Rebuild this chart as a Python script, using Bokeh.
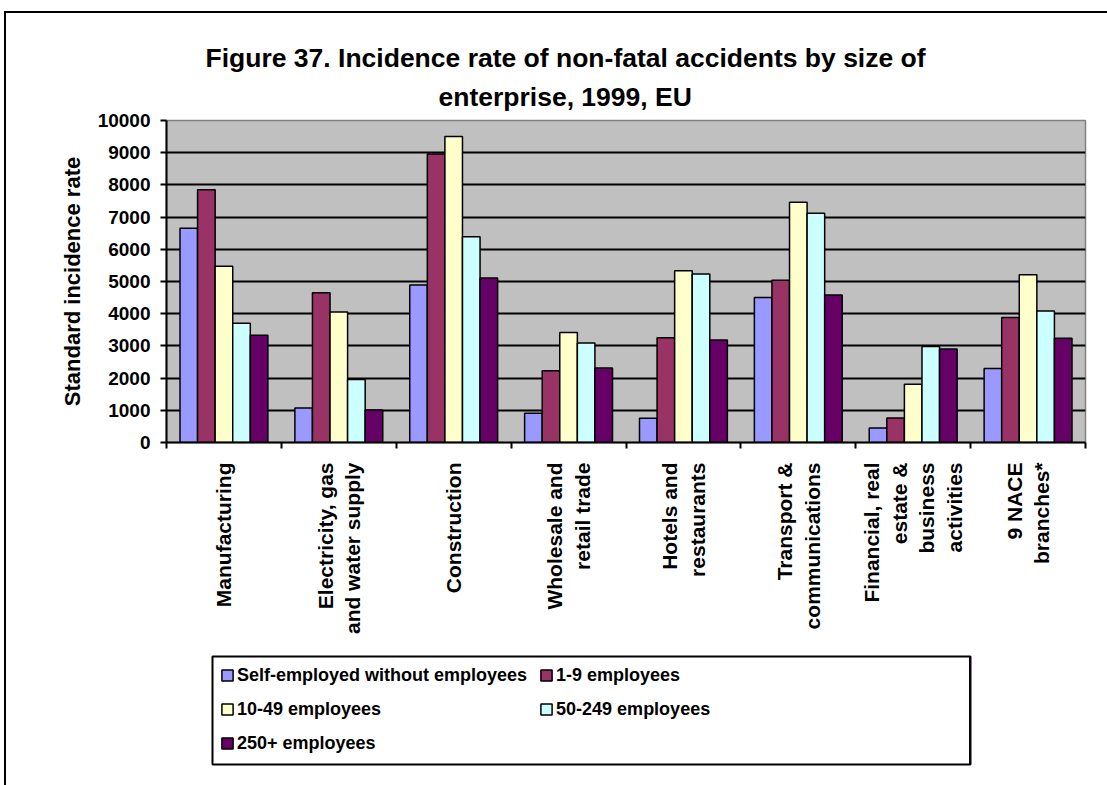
import math
from bokeh.plotting import figure
from bokeh.models import (Range1d, FixedTicker, Title, Legend, LegendItem,
                          ColumnDataSource, Spacer)
from bokeh.layouts import column, row
from bokeh.transform import dodge
from bokeh.embed import file_html
from bokeh.resources import INLINE

# ---------------- data ----------------
categories = [
    "Manufacturing",
    "Electricity, gas\nand water supply",
    "Construction",
    "Wholesale and\nretail trade",
    "Hotels and\nrestaurants",
    "Transport &\ncommunications",
    "Financial, real\nestate &\nbusiness\nactivities",
    "9 NACE\nbranches*",
]
series_names = [
    "Self-employed without employees",
    "1-9 employees",
    "10-49 employees",
    "50-249 employees",
    "250+ employees",
]
self_employed = [6650, 1070, 4890, 910, 750, 4500, 450, 2300]
emp_1_9 = [7850, 4650, 8960, 2230, 3250, 5040, 760, 3880]
emp_10_49 = [5470, 4050, 9500, 3420, 5330, 7460, 1810, 5210]
emp_50_249 = [3700, 1960, 6390, 3090, 5230, 7120, 2980, 4080]
emp_250_plus = [3330, 1010, 5110, 2310, 3180, 4580, 2900, 3240]
colors = ["#9999FF", "#993366", "#FFFFCC", "#CCFFFF", "#660066"]
y_ticks = list(range(0, 10001, 1000))
title_line1 = "Figure 37. Incidence rate of non-fatal accidents by size of"
title_line2 = "enterprise,  1999, EU"
y_label = "Standard incidence rate"

FONT = "Liberation Sans"

n = len(categories)
centers = [i + 0.5 for i in range(n)]
bounds = [float(i) for i in range(n + 1)]
series = [self_employed, emp_1_9, emp_10_49, emp_50_249, emp_250_plus]
keys = ["s0", "s1", "s2", "s3", "s4"]
data = {"x": centers}
for k, s in zip(keys, series):
    data[k] = s
src = ColumnDataSource(data)

# ---------------- main chart ----------------
p = figure(width=1101, height=627, x_range=Range1d(0, n), y_range=Range1d(0, 10000),
           output_backend="svg", toolbar_location=None, title=None,
           min_border_left=160, min_border_right=22, min_border_top=107,
           min_border_bottom=198, background_fill_color="#C0C0C0",
           border_fill_color="white", outline_line_color="#808080",
           outline_line_width=1.5)

bw = 0.153
offsets = [-2 * bw, -bw, 0.0, bw, 2 * bw]
for k, c, off in zip(keys, colors, offsets):
    p.vbar(x=dodge("x", off, range=p.x_range), top=k, width=bw, source=src,
           fill_color=c, line_color="black", line_width=1.5)

# title (two lines)
t2 = Title(text=title_line2, align="left", offset=272, text_font=FONT,
           text_font_style="bold", text_font_size="26.5px", standoff=18,
           text_color="black")
t1 = Title(text=title_line1, align="left", offset=39, text_font=FONT,
           text_font_style="bold", text_font_size="26.5px", standoff=-4,
           text_color="black")
p.add_layout(t2, "above")
p.add_layout(t1, "above")

# x axis
xa = p.xaxis[0]
xa.ticker = FixedTicker(ticks=centers, minor_ticks=bounds)
xa.major_label_overrides = {c: lab for c, lab in zip(centers, categories)}
xa.major_label_orientation = math.pi / 2
xa.major_tick_out = 0
xa.major_tick_in = 0
xa.minor_tick_out = 6
xa.minor_tick_in = 0
xa.minor_tick_line_color = "black"
xa.minor_tick_line_width = 2
xa.axis_line_color = "black"
xa.axis_line_width = 2
xa.major_label_standoff = 14
xa.major_label_text_font = FONT
xa.major_label_text_font_style = "bold"
xa.major_label_text_font_size = "21px"
xa.major_label_text_color = "black"

# y axis
ya = p.yaxis[0]
ya.ticker = FixedTicker(ticks=y_ticks)
ya.axis_label = y_label
ya.axis_label_text_font = FONT
ya.axis_label_text_font_style = "bold"
ya.axis_label_text_font_size = "22px"
ya.axis_label_text_color = "black"
ya.axis_label_standoff = 10
ya.major_label_text_font = FONT
ya.major_label_text_font_style = "bold"
ya.major_label_text_font_size = "19px"
ya.major_label_text_color = "black"
ya.major_label_standoff = 10
ya.major_tick_out = 6
ya.major_tick_in = 0
ya.major_tick_line_width = 2
ya.minor_tick_line_color = None
ya.axis_line_color = "black"
ya.axis_line_width = 2

p.xgrid.visible = False
p.ygrid.ticker = FixedTicker(ticks=y_ticks[1:-1])
p.ygrid.grid_line_color = "black"
p.ygrid.grid_line_width = 2

# ---------------- legend box ----------------
leg = figure(width=762, height=145, x_range=Range1d(-20, -19), y_range=Range1d(0, 1),
             output_backend="svg", toolbar_location=None,
             x_axis_location=None, y_axis_location=None,
             min_border_left=2, min_border_right=2, min_border_top=16,
             min_border_bottom=21, outline_line_color="black",
             outline_line_width=2, background_fill_color="white",
             border_fill_color="white")
leg.grid.visible = False
items = []
for name, k, c in zip(series_names, keys, colors):
    r = leg.vbar(x="x", top=k, width=bw, source=src, fill_color=c,
                 line_color="black", line_width=1.5)
    items.append(LegendItem(label=name, renderers=[r]))
legend = Legend(items=items, location="top_left", orientation="horizontal",
                ncols=2, border_line_color=None, background_fill_alpha=0,
                margin=8, padding=5, spacing=12, glyph_width=14,
                glyph_height=14, label_standoff=3, label_height=22,
                label_text_font=FONT, label_text_font_style="bold",
                label_text_font_size="18px", label_text_color="black")
leg.add_layout(legend)

layout = column(p, row(Spacer(width=204, height=145), leg, spacing=0), spacing=0,
                margin=(11, 0, 0, 4),
                styles={"border-top": "2px solid black",
                        "border-left": "2px solid black"})
open("out.html", "w").write(file_html(layout, INLINE))
